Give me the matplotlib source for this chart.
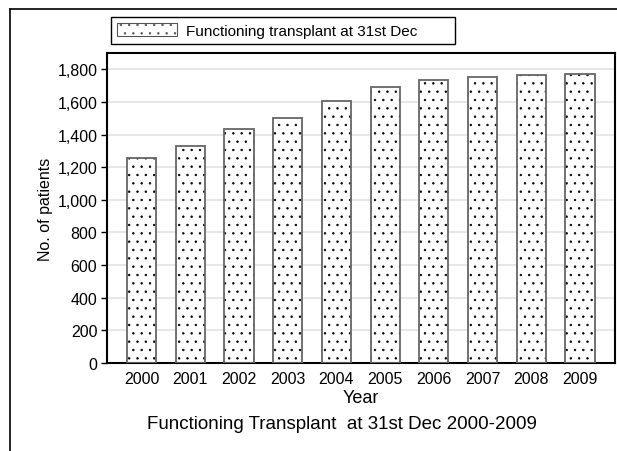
import matplotlib
matplotlib.use('Agg')
import matplotlib.pyplot as plt
from matplotlib.patches import Patch
from matplotlib.lines import Line2D
from matplotlib.ticker import FuncFormatter

years = ['2000', '2001', '2002', '2003', '2004', '2005', '2006', '2007', '2008', '2009']
patients = [1255, 1332, 1433, 1502, 1605, 1690, 1735, 1755, 1766, 1774]
yticks = [0, 200, 400, 600, 800, 1000, 1200, 1400, 1600, 1800]

plt.rcParams['font.family'] = ['Liberation Sans', 'DejaVu Sans']
plt.rcParams['hatch.linewidth'] = 0.5

fig = plt.figure(figsize=(6.17, 4.52), dpi=100)
ax = fig.add_axes([0.1734, 0.1947, 0.8234, 0.6858])

x = range(len(years))
# hatched fill, then grey outline on top
ax.bar(x, patients, width=0.6, color='white', edgecolor='black', hatch='..', linewidth=0, zorder=2)
ax.bar(x, patients, width=0.6, fill=False, edgecolor='#666666', linewidth=1.3, zorder=3)

ax.set_xlim(-0.71, 9.72)
ax.set_ylim(0, 1900)
ax.set_yticks(yticks)
ax.yaxis.set_major_formatter(FuncFormatter(lambda v, p: f'{int(v):,}'))
ax.set_xticks(list(x))
ax.set_xticklabels(years)
ax.tick_params(axis='x', length=0, pad=6, labelsize=11.5)
ax.tick_params(axis='y', length=4, width=1, direction='out', labelsize=11.5, pad=3)
ax.yaxis.grid(True, color='#e3e3e3', linewidth=1.2, zorder=0)
ax.set_axisbelow(True)
for s in ax.spines.values():
    s.set_linewidth(1.5)

ax.set_ylabel('No. of patients', fontsize=11.5, labelpad=3)
ax.set_xlabel('Year', fontsize=13, labelpad=2)
fig.text(0.555, 0.051, 'Functioning Transplant  at 31st Dec 2000-2009', ha='center', fontsize=13.5)

handle = Patch(facecolor='white', edgecolor='#555555', hatch='..', linewidth=0.8)
fig.legend([handle], ['Functioning transplant at 31st Dec'], loc='upper left',
           bbox_to_anchor=(111 / 617, 1 - 51 / 452, 344 / 617, 33 / 452), mode='expand',
           fontsize=11, frameon=True, fancybox=False,
           edgecolor='black', framealpha=1, handletextpad=0.6,
           handlelength=3.9, handleheight=0.9, borderaxespad=0, borderpad=0.4)

# outer frame lines (top and left)
fig.add_artist(Line2D([10 / 617, 10 / 617], [0, 1 - 10 / 452], color='black', linewidth=1.2))
fig.add_artist(Line2D([10 / 617, 1], [1 - 10 / 452, 1 - 10 / 452], color='black', linewidth=1.2))

fig.savefig('out.png', dpi=100)
